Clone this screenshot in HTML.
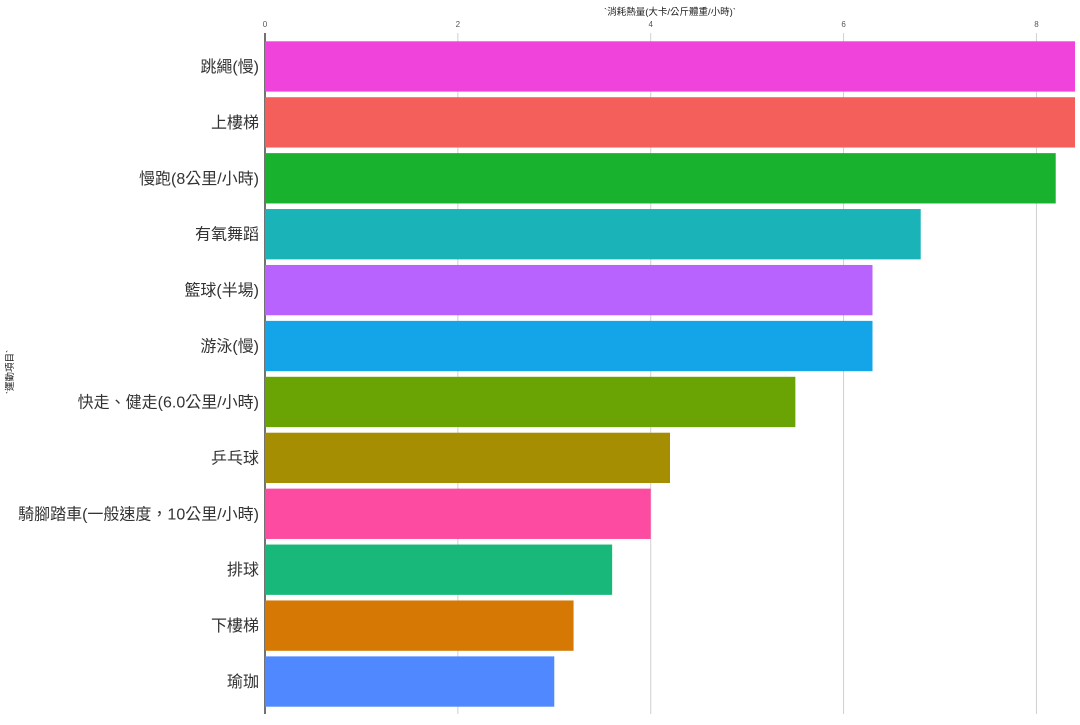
<!DOCTYPE html>
<html><head><meta charset="utf-8"><style>
body{margin:0;background:#fff;font-family:"Liberation Sans","Noto Sans CJK TC",sans-serif}
</style></head><body>
<svg id="c" width="1080" height="720" xmlns="http://www.w3.org/2000/svg"></svg>
<script>
const categories=["跳繩(慢)","上樓梯","慢跑(8公里/小時)","有氧舞蹈","籃球(半場)","游泳(慢)","快走、健走(6.0公里/小時)","乒乓球","騎腳踏車(一般速度，10公里/小時)","排球","下樓梯","瑜珈"];
const values=[8.4,8.4,8.2,6.8,6.3,6.3,5.5,4.2,4.0,3.6,3.2,3.0];
const colors=["#f043dc","#f45f5b","#19b22f","#19b3b8","#b963ff","#14a4e8","#6aa304","#a68e02","#fc4ba0","#18b87a","#d57904","#5089ff"];
const ticks=[0,2,4,6,8];
const svg=document.getElementById('c');const NS="http://www.w3.org/2000/svg";
const x0=265,x1=1075,xmax=8.4,yTop=38.5,yBot=709.5;
const band=(yBot-yTop)/categories.length;
const X=v=>x0+v/xmax*(x1-x0);
const Y=i=>yTop+i*band;
function el(t,a,txt){const e=document.createElementNS(NS,t);for(const k in a)e.setAttribute(k,a[k]);if(txt!=null)e.textContent=txt;svg.appendChild(e);return e;}
ticks.forEach(t=>{
 const g=el('line',{x1:X(t),x2:X(t),y1:33,y2:714,stroke:t===0?'#444':'#d0d0d0','stroke-width':t===0?1.5:1});
 
 
 const l=el('text',{x:X(t),y:27,'font-size':8,fill:'#555','text-anchor':'middle'},t);
 
 
});
categories.forEach((c,i)=>{
 const b=el('rect',{x:X(0),y:Y(i)+band*0.05,width:X(values[i])-X(0),height:band*0.9,fill:colors[i]});
 
 
 const t=el('text',{x:259,y:Y(i)+band/2+5.5,'font-size':16,fill:'#333','text-anchor':'end'},c);
 
 
});
const xt=el('text',{x:670,y:15,'font-size':9.5,fill:'#222','text-anchor':'middle'},'`消耗熱量(大卡/公斤體重/小時)`');


const yt=el('text',{x:0,y:0,'font-size':9.5,fill:'#222','text-anchor':'middle',transform:'translate(13,372) rotate(-90)'},'`運動項目`');


</script>
</body></html>
